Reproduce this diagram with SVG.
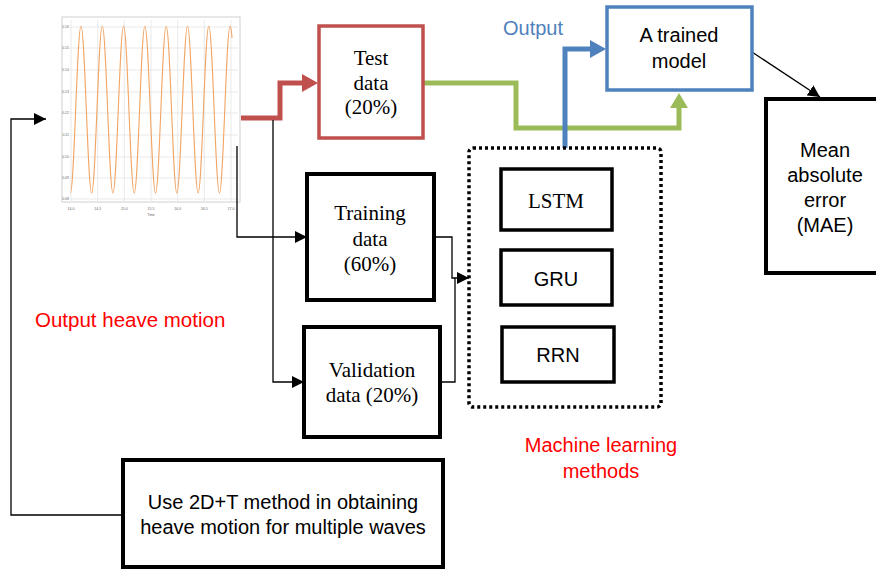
<svg xmlns="http://www.w3.org/2000/svg" width="876" height="571" viewBox="0 0 876 571">
<style>
.box{fill:#fff;stroke:#000;stroke-width:4}
.sm{fill:#fff;stroke:#000;stroke-width:3.5}
.tn{font-family:"Liberation Serif",serif;font-size:21px;fill:#000;text-anchor:middle}
.sa{font-family:"Liberation Sans",sans-serif;font-size:20px;fill:#000;text-anchor:middle}
.ln{fill:none;stroke:#000;stroke-width:1.3}
.grid{stroke:#e3e3e3;stroke-width:0.8}
.tick{font-family:"Liberation Sans",sans-serif;font-size:3.5px;fill:#666}
</style>
<defs>
<marker id="ah" viewBox="0 0 10 10" markerWidth="12" markerHeight="12" markerUnits="userSpaceOnUse" refX="10" refY="5" orient="auto"><path d="M0,0 L10,5 L0,10 z" fill="#000"/></marker>
</defs>
<rect width="876" height="571" fill="#fff"/>

<g id="chart">
<rect x="62" y="17" width="178" height="185" fill="#fff" stroke="#cfcfcf" stroke-width="1"/>
<g class="grid">
<line x1="70" y1="27" x2="238" y2="27"/><line x1="70" y1="48" x2="238" y2="48"/><line x1="70" y1="70" x2="238" y2="70"/><line x1="70" y1="92" x2="238" y2="92"/><line x1="70" y1="113" x2="238" y2="113"/><line x1="70" y1="135" x2="238" y2="135"/><line x1="70" y1="157" x2="238" y2="157"/><line x1="70" y1="178" x2="238" y2="178"/><line x1="70" y1="199" x2="238" y2="199"/>
<line x1="71" y1="20" x2="71" y2="201"/><line x1="97.7" y1="20" x2="97.7" y2="201"/><line x1="124.3" y1="20" x2="124.3" y2="201"/><line x1="151" y1="20" x2="151" y2="201"/><line x1="177.7" y1="20" x2="177.7" y2="201"/><line x1="204.3" y1="20" x2="204.3" y2="201"/><line x1="231" y1="20" x2="231" y2="201"/>
</g>
<g class="tick" text-anchor="end">
<text x="69" y="28">0.16</text><text x="69" y="49">0.15</text><text x="69" y="71">0.14</text><text x="69" y="93">0.13</text><text x="69" y="114">0.12</text><text x="69" y="136">0.11</text><text x="69" y="158">0.10</text><text x="69" y="179">0.09</text><text x="69" y="200">0.08</text>
</g>
<g class="tick" text-anchor="middle">
<text x="71" y="210">14.0</text><text x="97.7" y="210">14.5</text><text x="124.3" y="210">15.0</text><text x="151" y="210">15.5</text><text x="177.7" y="210">16.0</text><text x="204.3" y="210">16.5</text><text x="231" y="210">17.0</text>
<text x="151" y="216">Time</text>
</g>
<path fill="none" stroke="#F2A463" stroke-width="1.1" d="M70.35,193 C74.23,193 77.12,26 81,26 C84.88,26 87.77,193 91.65,193 C95.53,193 98.42,26 102.3,26 C106.18,26 109.07,193 112.95,193 C116.83,193 119.72,26 123.6,26 C127.48,26 130.37,193 134.25,193 C138.13,193 141.02,26 144.9,26 C148.78,26 151.67,193 155.55,193 C159.43,193 162.32,26 166.2,26 C170.08,26 172.97,193 176.85,193 C180.73,193 183.62,26 187.5,26 C191.38,26 194.27,193 198.15,193 C202.03,193 204.92,26 208.8,26 C212.68,26 215.57,193 219.45,193 C223.33,193 226.22,26 230.1,26 C231,26 231.6,32 232,38"/>
</g>

<g id="connectors">
<path d="M241,118 H280 V83 H304" fill="none" stroke="#C0504D" stroke-width="5"/>
<polygon points="302,74 318,83 302,92" fill="#C0504D"/>
<path d="M423,83 H516 V128 H679 V106" fill="none" stroke="#9BBB59" stroke-width="5"/>
<polygon points="670,108 679,93 688,108" fill="#9BBB59"/>
<path d="M565,148 V49 H592" fill="none" stroke="#4F81BD" stroke-width="5"/>
<polygon points="590,40 606,49 590,58" fill="#4F81BD"/>
<path class="ln" d="M237,146 V237 H307" marker-end="url(#ah)"/>
<path class="ln" d="M273,120 V382 H304" marker-end="url(#ah)"/>
<path class="ln" d="M434,237 H452 V278 H469" marker-end="url(#ah)"/>
<path class="ln" d="M440,382 H455 V278"/>
<path class="ln" d="M123,515 H11 V119 H46" marker-end="url(#ah)"/>
<path class="ln" d="M752,52 L820,97" marker-end="url(#ah)"/>
</g>

<g id="test-data">
<rect x="319" y="26" width="104" height="112" fill="#fff" stroke="#C0504D" stroke-width="3.5"/>
<text class="tn" x="371" y="65">Test</text>
<text class="tn" x="371" y="90">data</text>
<text class="tn" x="371" y="114">(20%)</text>
</g>

<g id="training-data">
<rect class="box" x="307" y="174" width="127" height="126"/>
<text class="tn" x="370" y="220">Training</text>
<text class="tn" x="370" y="246">data</text>
<text class="tn" x="370" y="271">(60%)</text>
</g>

<g id="validation-data">
<rect class="box" x="304" y="327" width="136" height="110"/>
<text class="tn" x="372" y="377">Validation</text>
<text class="tn" x="372" y="402">data (20%)</text>
</g>

<g id="ml-methods">
<rect x="469" y="148" width="192" height="259" rx="4" fill="none" stroke="#000" stroke-width="3.5" stroke-dasharray="3 3"/>
</g>
<g id="lstm">
<rect class="sm" x="501" y="169" width="111" height="61"/>
<text class="tn" x="556" y="208">LSTM</text>
</g>
<g id="gru">
<rect class="sm" x="501" y="250" width="111" height="55"/>
<text class="sa" x="556" y="286" font-size="17.5">GRU</text>
</g>
<g id="rrn">
<rect class="sm" x="502" y="327" width="112" height="55"/>
<text class="sa" x="558" y="362" font-size="17">RRN</text>
</g>

<g id="trained-model">
<rect x="607" y="7" width="145" height="83" fill="#fff" stroke="#4F81BD" stroke-width="3.5"/>
<text class="sa" x="679" y="42">A trained</text>
<text class="sa" x="679" y="68">model</text>
</g>

<g id="mae">
<rect class="box" x="766" y="99" width="116" height="174"/>
<text class="sa" x="825" y="157">Mean</text>
<text class="sa" x="825" y="182">absolute</text>
<text class="sa" x="825" y="207">error</text>
<text class="sa" x="825" y="232">(MAE)</text>
</g>

<g id="method-2dt">
<rect class="box" x="123" y="460" width="320" height="107"/>
<text class="sa" x="283" y="509" font-size="18.2">Use 2D+T method in obtaining</text>
<text class="sa" x="283" y="534" font-size="18.2">heave motion for multiple waves</text>
</g>

<g id="labels">
<text x="503" y="35" font-family="'Liberation Sans',sans-serif" font-size="20" fill="#4F81BD">Output</text>
<text x="35" y="327" font-family="'Liberation Sans',sans-serif" font-size="20.5" fill="#FF0000">Output heave motion</text>
<text x="601" y="452" font-family="'Liberation Sans',sans-serif" font-size="20" fill="#FF0000" text-anchor="middle">Machine learning</text>
<text x="601" y="478" font-family="'Liberation Sans',sans-serif" font-size="20" fill="#FF0000" text-anchor="middle">methods</text>
</g>
</svg>
